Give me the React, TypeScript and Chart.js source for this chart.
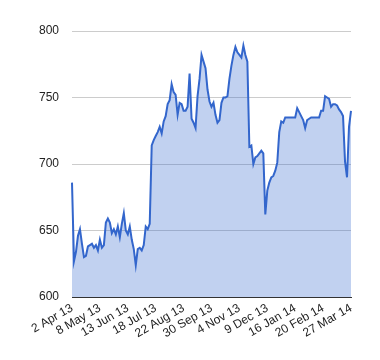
import React, { useEffect, useRef } from "react";
import { Chart, registerables } from "chart.js";

Chart.register(...registerables);

const tickLabels = [
  "2 Apr 13", "8 May 13", "13 Jun 13", "18 Jul 13", "22 Aug 13", "30 Sep 13",
  "4 Nov 13", "9 Dec 13", "16 Jan 14", "20 Feb 14", "27 Mar 14",
];

const TICK_EVERY = 14;

const values = [
  686, 627, 634, 646, 651, 640, 630, 631, 638, 639,
  640, 637, 639, 635, 643, 637, 639, 656, 659, 656,
  648, 651, 647, 653, 645, 655, 663, 650, 647, 653,
  643, 636, 624, 636, 637, 635, 639, 653, 651, 655,
  714, 718, 721, 724, 728, 723, 732, 736, 745, 748,
  760, 754, 752, 737, 746, 745, 740, 740, 743, 768,
  734, 731, 727, 751, 764, 782, 777, 772, 756, 747,
  743, 746, 737, 731, 733, 746, 750, 750, 751, 764,
  774, 782, 788, 784, 782, 780, 789, 782, 777, 713,
  714, 700, 705, 706, 708, 710, 708, 662, 680, 686,
  690, 691, 695, 701, 724, 732, 731, 735, 735, 735,
  735, 735, 735, 742, 739, 736, 733, 727, 733, 734,
  735, 735, 735, 735, 735, 740, 740, 751, 750, 749,
  743, 745, 745, 744, 741, 739, 736, 702, 690, 728,
  740,
];

const categories = values.map((_, i) =>
  i % TICK_EVERY === 0 ? tickLabels[i / TICK_EVERY] ?? "" : ""
);

const yTicks = [600, 650, 700, 750, 800];

export default function App() {
  const ref = useRef<HTMLCanvasElement | null>(null);

  useEffect(() => {
    if (!ref.current) return;
    const chart = new Chart(ref.current, {
      type: "line",
      data: {
        labels: categories,
        datasets: [
          {
            data: values,
            borderColor: "#3366cc",
            backgroundColor: "rgba(51,102,204,0.3)",
            borderWidth: 2,
            fill: "start",
            pointRadius: 0,
            tension: 0,
          },
        ],
      },
      options: {
        animation: false,
        responsive: false,
        events: [],
        layout: { padding: { top: 31, right: 29, left: 0, bottom: 0 } },
        plugins: { legend: { display: false }, tooltip: { enabled: false } },
        scales: {
          x: {
            type: "category",
            grid: { display: false, drawTicks: false },
            border: { display: true, color: "#333333", width: 1 },
            ticks: {
              autoSkip: false,
              minRotation: 30,
              maxRotation: 30,
              padding: 4,
              color: "#222222",
              font: { family: "'Liberation Sans', Arial, sans-serif", size: 12 },
              callback: (_v: any, i: number) => categories[i],
            },
            afterFit: (s: any) => {
              s.height = 63;
            },
          },
          y: {
            min: 600,
            max: 800,
            afterBuildTicks: (s: any) => {
              s.ticks = yTicks.map((v) => ({ value: v }));
            },
            grid: { color: "#cccccc", drawTicks: false, lineWidth: 1 },
            border: { display: false },
            ticks: {
              padding: 13,
              color: "#222222",
              font: { family: "'Liberation Sans', Arial, sans-serif", size: 12 },
            },
            afterFit: (s: any) => {
              s.width = 72;
            },
          },
        },
      },
    });
    return () => chart.destroy();
  }, []);

  return (
    <div style={{ position: "fixed", left: 0, top: 0, width: 380, height: 360, background: "#fff" }}>
      <canvas ref={ref} width={380} height={360} style={{ display: "block" }} />
    </div>
  );
}
